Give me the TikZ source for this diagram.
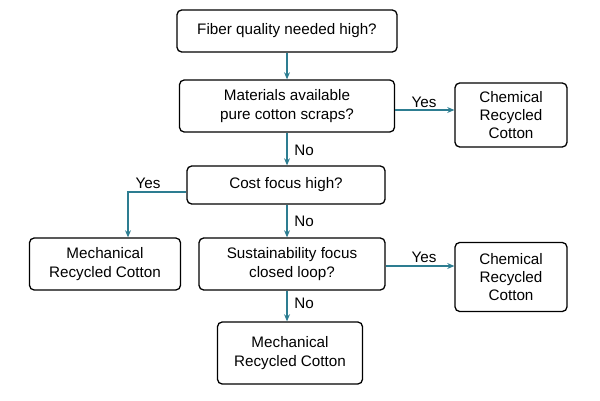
\documentclass[tikz,border=0pt]{standalone}
\usepackage{fontspec}
\setmainfont{Liberation Sans}
\usetikzlibrary{positioning,arrows.meta,calc}
\definecolor{flowteal}{RGB}{45,125,145}

\begin{document}
\begin{tikzpicture}[
  x=0.03cm, y=-0.03cm,
  box/.style={draw, line width=1.1pt, rounded corners=4pt, align=center,
    font=\fontsize{13}{15.5}\selectfont, inner sep=0pt},
  flow/.style={draw=flowteal, line width=1pt, -{Stealth[length=6pt,width=5pt]}},
  lbl/.style={font=\fontsize{13}{15.5}\selectfont},
]
  \useasboundingbox (0,0) rectangle (600,400);

  % --- decisions ---
  \node[box, minimum width=220*0.03cm, minimum height=42*0.03cm] (fiber) at (287,31) {Fiber quality needed high?};
  \node[box, minimum width=215*0.03cm, minimum height=52*0.03cm] (scraps) at (287,106) {Materials available\\pure cotton scraps?};
  \node[box, minimum width=198*0.03cm, minimum height=38*0.03cm] (cost) at (286,185) {Cost focus high?};
  \node[box, minimum width=186*0.03cm, minimum height=52*0.03cm] (loop) at (292,264) {Sustainability focus\\closed loop?};

  % --- outcomes ---
  \node[box, minimum width=112*0.03cm, minimum height=64*0.03cm] (chemA) at (511,115) {Chemical\\Recycled\\Cotton};
  \node[box, minimum width=151*0.03cm, minimum height=52*0.03cm] (mechA) at (105,264) {Mechanical\\Recycled Cotton};
  \node[box, minimum width=112*0.03cm, minimum height=69*0.03cm] (chemB) at (511,277) {Chemical\\Recycled\\Cotton};
  \node[box, minimum width=145*0.03cm, minimum height=62*0.03cm] (mechB) at (290,353) {Mechanical\\Recycled Cotton};

  % --- connectors ---
  \draw[flow] (fiber.south -| 287,0) -- (scraps.north -| 287,0);
  \draw[flow] (scraps.east |- 0,110) -- (chemA.west |- 0,110);
  \node[lbl] (yesA) at (424,102) {Yes};
  \draw[flow] (scraps.south -| 287,0) -- (cost.north -| 287,0);
  \node[lbl] (noA) at (304,150) {No};
  \draw[flow] (cost.west |- 0,192) -| (mechA.north -| 128,0);
  \node[lbl] (yesB) at (148,183) {Yes};
  \draw[flow] (cost.south -| 287,0) -- (loop.north -| 287,0);
  \node[lbl] (noB) at (304,221) {No};
  \draw[flow] (loop.east |- 0,266) -- (chemB.west |- 0,266);
  \node[lbl] (yesC) at (424,257) {Yes};
  \draw[flow] (loop.south -| 287,0) -- (mechB.north -| 287,0);
  \node[lbl] (noC) at (304,303) {No};
\end{tikzpicture}
\end{document}
